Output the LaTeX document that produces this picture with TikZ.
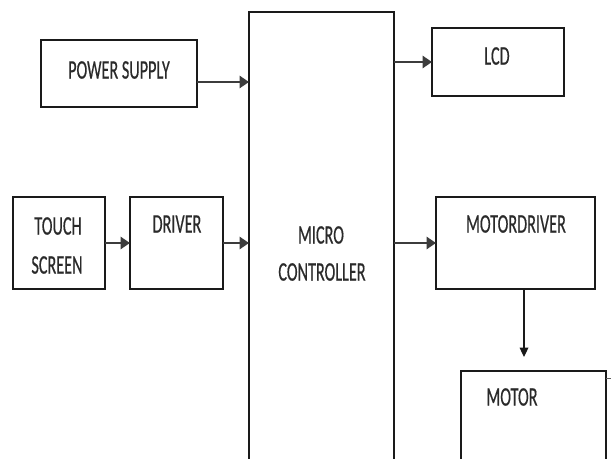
\documentclass[tikz,border=0pt]{standalone}
\usepackage{fontspec}
\usepackage{graphicx}
\setmainfont[FakeBold=0.6]{Carlito}
\usetikzlibrary{arrows.meta}
\definecolor{txt}{HTML}{2A2A2A}
\definecolor{ln}{HTML}{1A1A1A}
\newcommand\stretchlbl[1]{\scalebox{1}[1.65]{#1}}
\tikzset{
  blk/.style={draw=ln, line width=1.2pt, rectangle, anchor=north west, inner sep=0pt, outer sep=0pt},
  lbl/.style={text=txt, inner sep=0pt, font=\fontsize{12.15}{14}\selectfont},
  arr/.style={draw=ln!85!white, line width=1.8pt, -{Triangle[length=7pt,width=9pt]}},
  thinarr/.style={draw=ln, line width=0.9pt, -{Triangle[length=7pt,width=6.5pt]}}
}
\begin{document}
\begin{tikzpicture}[x=0.75pt,y=-0.75pt]
\useasboundingbox (0,0) rectangle (611,459);
\clip (0,0) rectangle (611,459);
\fill[white] (0,0) rectangle (611,459);
% blocks
\node[blk, minimum width=117pt, minimum height=50.25pt] (power) at (41,40) {};
\node[blk, minimum width=108.75pt, minimum height=339.75pt] (mc) at (249,12) {};
\node[blk, minimum width=99pt, minimum height=51pt] (lcd) at (432,28) {};
\node[blk, minimum width=69pt, minimum height=69pt] (touch) at (13,197) {};
\node[blk, minimum width=69.75pt, minimum height=69pt] (driver) at (130,197) {};
\node[blk, minimum width=119.25pt, minimum height=69pt] (md) at (436,197) {};
\node[blk, minimum width=108.75pt, minimum height=74.25pt] (motor) at (461,371) {};
% labels
\node[lbl] (tpower) at (119,70) {\stretchlbl{POWER SUPPLY}};
\node[lbl] (tlcd) at (497,56) {\stretchlbl{LCD}};
\node[lbl] (ttouch) at (58,226) {\stretchlbl{TOUCH}};
\node[lbl] (tscreen) at (57,265) {\stretchlbl{SCREEN}};
\node[lbl] (tdriver) at (177,224) {\stretchlbl{DRIVER}};
\node[lbl] (tmicro) at (321,235) {\stretchlbl{MICRO}};
\node[lbl] (tcontroller) at (322,272) {\stretchlbl{CONTROLLER}};
\node[lbl] (tmd) at (516,224) {\stretchlbl{MOTORDRIVER}};
\node[lbl] (tmotor) at (512,397) {\stretchlbl{MOTOR}};
% helper coordinates
\coordinate (pa) at (0,82);
\coordinate (ma) at (524,0);
% connectors
\draw[arr] (power.east |- pa) -- (mc.west |- pa);
\draw[arr] (mc.east |- lcd.west) -- (lcd.west);
\draw[arr] (touch.east) -- (driver.west);
\draw[arr] (driver.east) -- (mc.west |- driver.east);
\draw[arr] (mc.east |- md.west) -- (md.west);
\draw[thinarr, shorten >=10.5pt] (md.south -| ma) -- (motor.north -| ma);
% small tick right of motor box
\coordinate (tk) at (611,378);
\draw[ln!70!white, line width=0.7pt] (motor.east |- tk) -- (tk);
\end{tikzpicture}
\end{document}
